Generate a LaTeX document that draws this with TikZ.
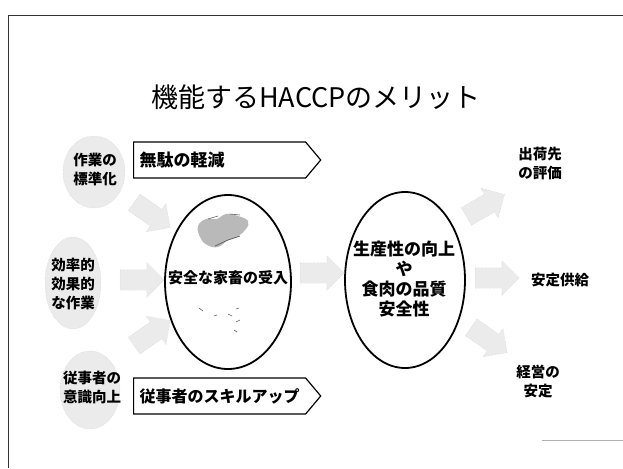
\documentclass[tikz,border=0pt]{standalone}
\usepackage{fontspec}
\newfontfamily\jp{Noto Sans CJK JP}
\usetikzlibrary{shapes.geometric,shapes.arrows,shapes.symbols}

\begin{document}
\begin{tikzpicture}[x=1pt,y=-1pt,
  haze/.style={fill=gray!16, draw=gray!40, densely dotted, thin},
  blob/.style={haze, ellipse, inner sep=0pt},
  fatarrow/.style={haze, single arrow, minimum height=44pt, inner sep=10pt,
    single arrow head extend=7pt},
  oval/.style={ellipse, draw, line width=1.8pt, inner sep=0pt},
  banner/.style={signal, signal to=east, draw, line width=1.2pt,
    signal pointer angle=100, minimum height=36pt, inner sep=6pt,
    font=\jp\bfseries\fontsize{17}{20}\selectfont},
  lbl/.style={font=\jp\bfseries\fontsize{14.5}{19}\selectfont, align=center, inner sep=0pt}
]
\useasboundingbox (0,0) rectangle (623,468);

% page frame
\coordinate (fl) at (8,468);
\coordinate (ftl) at (8,16);
\coordinate (ftr) at (623,16);
\coordinate (fbl) at (542,440);
\coordinate (fbr) at (623,440);
\draw[line width=1pt, black!80] (fl) -- (ftl) -- (ftr);
\draw[line width=0.9pt, gray!60] (fbl) -- (fbr);

% title
\node (title) at (316,97) {\jp\fontsize{27}{30}\selectfont 機能するHACCPのメリット};

% soft blobs on the left
\node[blob, minimum width=62pt, minimum height=72pt] (b1) at (94,172) {};
\node[blob, minimum width=56pt, minimum height=92pt] (b2) at (73,283) {};
\node[blob, minimum width=60pt, minimum height=78pt] (b3) at (90,390) {};
\node[lbl] (t1) at (95,169) {作業の\\標準化};
\node[lbl] (t2) at (73,284) {効率的\\効果的\\な作業};
\node[lbl] (t3) at (92,388) {従事者の\\意識向上};

% banners
\node[banner, anchor=west, minimum width=187pt, text width=160pt, align=left] (w1) at (133,160) {無駄の軽減};
\node[banner, anchor=west, minimum width=187pt, text width=160pt, align=left,
  font=\jp\bfseries\fontsize{16}{20}\selectfont] (w2) at (133,396) {従事者のスキルアップ};

% the two ovals
\node[oval, minimum width=126pt, minimum height=174pt] (e1) at (228,282) {};
\node[oval, minimum width=120pt, minimum height=176pt] (e2) at (405,280) {};
\node[font=\jp\bfseries\fontsize{15}{18}\selectfont, inner sep=0pt] (e1t) at (228,278) {安全な家畜の受入};
\node[font=\jp\bfseries\fontsize{17}{20}\selectfont, align=center, inner sep=0pt] (e2t) at (404,279)
  {生産性の向上\\や\\食肉の品質\\安全性};

% livestock sketch inside the left oval
\fill[gray!55] plot[smooth cycle, tension=0.7] coordinates {
  (198,226) (206,219) (217,219) (226,214) (238,216) (248,221) (246,229)
  (238,236) (228,240) (218,247) (207,245) (200,237)};
\draw[gray!80!black, line width=0.8pt] (215,246) -- (228,240) -- (240,236);
\draw[gray!80!black, line width=0.6pt] (208,219) -- (218,216) (230,214) -- (240,215);
\draw[gray!70!black, line width=0.6pt]
  (199,308) -- (203,311) (214,316) -- (217,315) (228,314) -- (232,316)
  (236,309) -- (239,308) (236,322) -- (240,320) (234,330) -- (237,332);

% broad arrows
\node[fatarrow, rotate=-35] (a1) at (148,212) {};
\node[fatarrow] (a2) at (137,280) {};
\node[fatarrow, rotate=35] (a3) at (148,336) {};
\node[fatarrow] (a4) at (317,273) {};
\node[fatarrow, rotate=30] (a5) at (481,208) {};
\node[fatarrow] (a6) at (492,278) {};
\node[fatarrow, rotate=-35] (a7) at (485,337) {};

% outcomes on the right
\node[lbl] (r1) at (540,163) {出荷先\\の評価};
\node[lbl] (r2) at (560,280) {安定供給};
\node[lbl] (r3) at (538,382) {経営の\\安定};
\end{tikzpicture}
\end{document}
